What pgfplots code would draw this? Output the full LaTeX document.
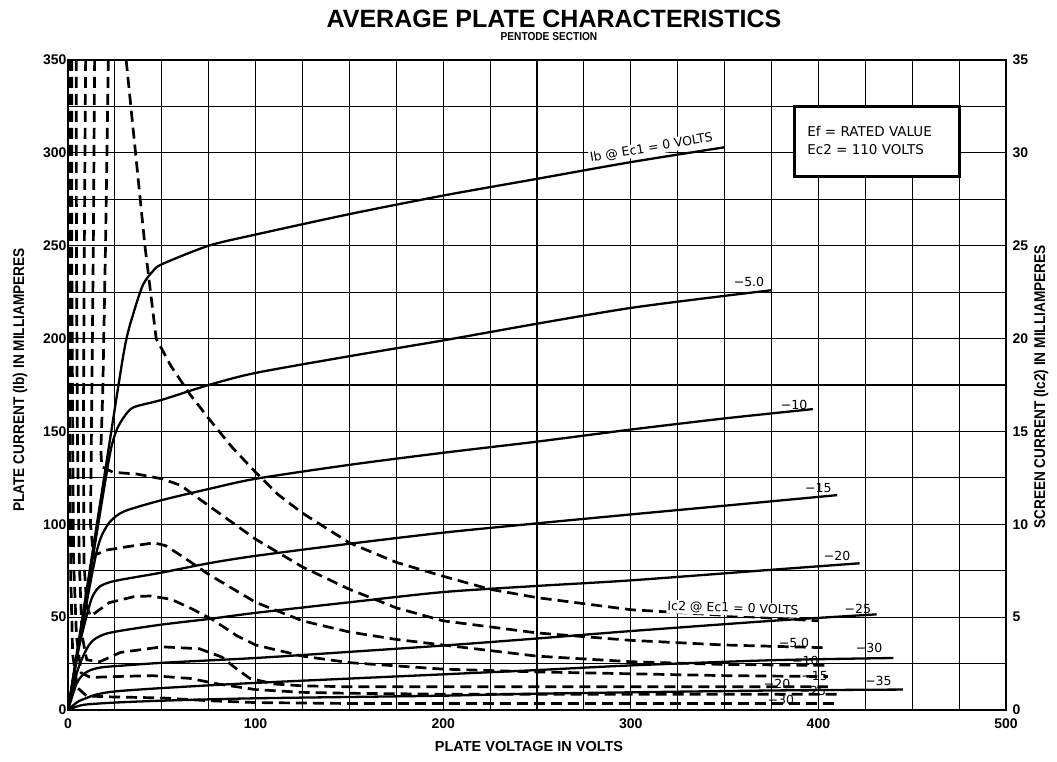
\documentclass[border=0pt]{standalone}
\usepackage{fontspec}
\setmainfont{Liberation Sans}
\newfontfamily\condfont{Liberation Sans}[FakeStretch=0.88]
\newfontfamily\lblfont{DejaVu Sans}
\usepackage{pgfplots}
\pgfplotsset{compat=1.18}
\tikzset{
  solidc/.style={black, line width=2.3bp, smooth, tension=0.45},
  dashc/.style={black, line width=2.7bp, dash pattern=on 11bp off 6bp},
  lbl/.style={font=\lblfont\fontsize{12.5bp}{12.5bp}\selectfont, inner sep=1bp},
}
\begin{document}
\begin{tikzpicture}[x=1bp,y=1bp]
\path[use as bounding box] (-68,-52) rectangle (989,710);
\begin{axis}[
  at={(0,0)}, anchor=south west, scale only axis,
  width=938bp, height=650bp,
  xmin=0, xmax=500, ymin=0, ymax=350,
  xtick={0,100,...,500}, ytick={0,50,...,350},
  minor xtick={25,50,...,475}, minor ytick={25,75,...,325},
  grid=both,
  grid style={black, line width=1.1bp},
  minor grid style={black, line width=1.1bp},
  major tick length=0pt, minor tick length=0pt,
  axis line style={line width=1.5bp},
  /pgf/number format/assume math mode=true,
  tick label style={font=\bfseries\fontsize{14bp}{14bp}\selectfont},
  xticklabel style={yshift=-5bp},
  yticklabel style={xshift=2bp},
  clip=true,
]
% Plate current Ib (solid)
\addplot[solidc] coordinates {(0,0)(10,65)(20,130)(30,194)(35,214)(40,229)(45,236)(50,240)(75,250)(100,256)(150,267)(200,277)(250,286)(300,295)(350,303)};
\addplot[solidc] coordinates {(0,0)(10,62)(20,124)(23,141)(26,151)(30,158)(35,163)(50,167)(75,175)(100,181.5)(150,190.5)(200,199)(250,208)(300,216.5)(350,223)(375,226)};
\addplot[solidc] coordinates {(0,0)(10,58)(15,84)(18,94)(22.5,101.5)(30,107)(50,113)(75,119)(100,124.5)(150,132)(200,138.5)(250,144.5)(300,151)(350,157)(397,162)};
\addplot[solidc] coordinates {(0,0)(5,30)(10,51)(13,61)(17,66.5)(25,69.5)(50,74)(75,79)(100,83)(150,89.5)(200,95.5)(250,100.5)(300,105.3)(350,110)(410,115.7)};
\addplot[solidc] coordinates {(0,0)(5,21)(10,33)(14,38)(20,41)(30,43)(50,46)(75,49)(100,52.3)(150,58)(200,63.5)(250,66.8)(300,69.8)(375,75.5)(422,79)};
\addplot[solidc] coordinates {(0,0)(4.5,14)(8,19)(12,21.5)(18,23)(25,23.6)(50,25.4)(100,28)(150,31.3)(200,34.7)(250,38.5)(300,42.5)(375,48)(431,51.5)};
\addplot[solidc] coordinates {(0,0)(5,4.3)(10,6.5)(15,8.3)(25,10)(50,11.8)(100,14.6)(200,19.2)(250,21.5)(300,24)(375,26.8)(440,28)};
\addplot[solidc] coordinates {(0,0)(5,2)(10,3)(25,4)(50,5)(100,6.3)(200,7.7)(250,8.8)(375,10.5)(445,11)};
% Screen current Ic2 (dashed, left units = 10 x right scale)
\addplot[dashc] coordinates {(31,350)(36,300)(41,250)(47,200)(55,185)(65,170)(75,157)(87,142)(100,128)(112,116)(125,106)(150,90)(175,79.5)(200,72)(225,65)(250,60.5)(300,54)(350,51)(400,48)};
\addplot[dashc] coordinates {(21.5,350)(20,250)(18.5,170)(17.5,140)(18,131)(24,128)(37,127)(50,124.5)(60,121)(75,110)(100,92)(125,77)(150,65)(175,55)(200,48)(250,41.5)(300,37.5)(350,35)(405,33.5)};
\addplot[dashc] coordinates {(14.2,350)(13.5,250)(12.5,150)(12,100)(13.6,83)(20,86)(32,88)(46,90)(52,88.5)(62,82)(75,73)(100,58)(125,48)(150,42)(175,38)(200,35)(250,29)(300,26)(350,24.5)(405,24)};
\addplot[dashc] coordinates {(9.4,350)(8.7,250)(8.2,150)(8.5,80)(10,56)(12,50.5)(22,57.8)(35,61)(44,61.4)(55,59.6)(65,55)(77,48.7)(90,40)(100,35)(125,29)(150,25.5)(200,22)(250,20.5)(300,19.5)(350,18.5)(405,18)};
\addplot[dashc] coordinates {(4.4,350)(4.5,250)(5,150)(6,80)(7.5,40)(10,27)(17,26)(28,31)(50,34)(70,33)(82,28.5)(90,22)(97,17)(110,14)(125,13)(150,12.5)(200,12.5)(300,12.5)(405,12.5)};
\addplot[dashc] coordinates {(2,350)(2,250)(2.5,150)(3,80)(4.5,40)(7,20)(12,17.5)(25,18)(45,18.5)(65,17)(80,14)(100,11)(125,9.5)(150,9)(200,8.5)(300,8.5)(410,8.5)};
\addplot[dashc] coordinates {(0.8,350)(0.8,250)(1,150)(1.5,70)(2.5,30)(5,12)(10,7.5)(25,7)(50,6.5)(75,5)(100,4)(150,3.5)(250,3.5)(410,3.5)};
% curve labels
\node[lbl, fill=white, rotate=9.5] at (axis cs:311,302.6) {Ib @ Ec1 = 0 VOLTS};
\node[lbl] at (axis cs:363,230.5) {−5.0};
\node[lbl] at (axis cs:387,164.5) {−10};
\node[lbl] at (axis cs:400,119.5) {−15};
\node[lbl] at (axis cs:410,83) {−20};
\node[lbl] at (axis cs:421,54.5) {−25};
\node[lbl] at (axis cs:427,33.5) {−30};
\node[lbl] at (axis cs:432,15.5) {−35};
\node[lbl, fill=white, rotate=-2] at (axis cs:354.5,54.5) {Ic2 @ Ec1 = 0 VOLTS};
\node[lbl] at (axis cs:387,36) {−5.0};
\node[lbl] at (axis cs:393,26.5) {−10};
\node[lbl] at (axis cs:398,18.5) {−15};
\node[lbl] at (axis cs:378,14) {−20};
\node[lbl] at (axis cs:397,10) {−25};
\node[lbl] at (axis cs:380,5.5) {−30};
% condition box
\draw[line width=3bp, fill=white] (axis cs:387,287) rectangle (axis cs:475,325);
\node[anchor=west, font=\lblfont\fontsize{13.5bp}{13.5bp}\selectfont, inner sep=0pt] at (axis cs:394,311.4) {Ef = RATED VALUE};
\node[anchor=west, font=\lblfont\fontsize{13.5bp}{13.5bp}\selectfont, inner sep=0pt] at (axis cs:394,301.9) {Ec2 = 110 VOLTS};
\end{axis}
\begin{axis}[
  at={(0,0)}, anchor=south west, scale only axis,
  width=938bp, height=650bp,
  xmin=0, xmax=500, ymin=0, ymax=35,
  axis x line=none, axis y line*=right,
  ytick={0,5,...,35},
  major tick length=0pt,
  axis line style={line width=1.5bp},
  /pgf/number format/assume math mode=true,
  tick label style={font=\bfseries\fontsize{14bp}{14bp}\selectfont},
  yticklabel style={xshift=3bp},
]
\end{axis}
\node[font=\bfseries\fontsize{25bp}{25bp}\selectfont, anchor=base] at (486,682) {AVERAGE PLATE CHARACTERISTICS};
\node[font=\condfont\bfseries\fontsize{11.5bp}{11.5bp}\selectfont, anchor=base] at (481,669.5) {PENTODE SECTION};
\node[font=\bfseries\fontsize{14.5bp}{14.5bp}\selectfont] at (461,-37) {PLATE VOLTAGE IN VOLTS};
\node[font=\condfont\bfseries\fontsize{15.5bp}{15.5bp}\selectfont, rotate=90] at (-48,330) {PLATE CURRENT (Ib) IN MILLIAMPERES};
\node[font=\condfont\bfseries\fontsize{15.5bp}{15.5bp}\selectfont, rotate=90] at (973,323) {SCREEN CURRENT (Ic2) IN MILLIAMPERES};
\end{tikzpicture}
\end{document}
